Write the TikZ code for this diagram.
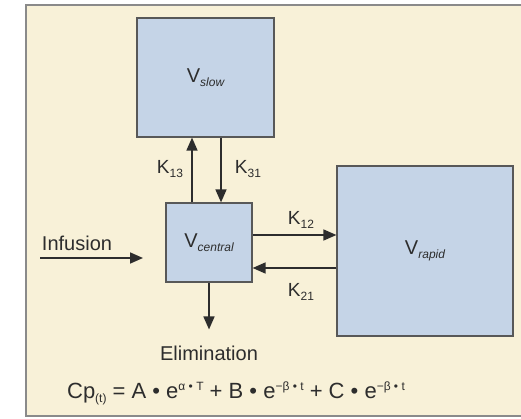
\documentclass[tikz,border=0pt]{standalone}
\usepackage{fontspec}
\setmainfont{Liberation Sans}
\definecolor{creambg}{RGB}{248,241,216}
\definecolor{boxblue}{RGB}{197,212,231}
\definecolor{edgegray}{RGB}{88,88,88}
\definecolor{inkgray}{RGB}{45,45,45}
\usetikzlibrary{arrows.meta,positioning,calc}
\newcommand{\lowsub}[1]{{\fontsize{12}{12}\selectfont\raisebox{-4pt}{#1}}}
\newcommand{\highsup}[1]{{\fontsize{12}{12}\selectfont\raisebox{8pt}{#1}}}

\begin{document}
\begin{tikzpicture}[x=1pt, y=-1pt,
    compartment/.style={draw=edgegray, line width=1.2pt, fill=boxblue,
      inner sep=0pt, text=inkgray, font=\fontsize{20}{22}\selectfont},
    flow/.style={draw=inkgray, line width=1.6pt,
      -{Triangle[length=13pt, width=11pt]}},
    rate/.style={text=inkgray, font=\fontsize{19}{21}\selectfont, inner sep=0pt}]
  % frame and background
  \useasboundingbox (0,0) rectangle (521,419);
  \fill[white] (0,0) rectangle (521,419);
  \draw[edgegray!70, line width=1.5pt, fill=creambg] (26,5) rectangle (530,416);

  % compartments
  \node[compartment, minimum width=137pt, minimum height=119pt] (slow) at (205.5,77.5)
    {V\lowsub{\itshape slow}};
  \node[compartment, minimum width=86pt, minimum height=79pt] (central) at (209,242.5)
    {V\lowsub{\itshape central}};
  \node[compartment, minimum width=176pt, minimum height=170pt] (rapid) at (425,251)
    {V\lowsub{\itshape rapid}};

  % free ends
  \coordinate (infstart) at (40,258);
  \coordinate (infend) at (143,258);
  \node[rate, font=\fontsize{20}{22}\selectfont] (infusion) at (77,243) {Infusion};
  \node[rate, font=\fontsize{20}{22}\selectfont] (elim) at (209,353) {Elimination};

  % transfers
  \draw[flow] ([xshift=-17pt]central.north) -- ([xshift=-17pt]central.north |- slow.south);
  \draw[flow] ([xshift=12pt]central.north |- slow.south) -- ([xshift=12pt]central.north);
  \draw[flow] ([yshift=7.5pt]central.east) -- ([yshift=7.5pt]central.east -| rapid.west);
  \draw[flow] ([yshift=-25.5pt]central.east -| rapid.west) -- ([yshift=-25.5pt]central.east);
  \draw[flow] (infstart) -- (infend);
  \draw[flow] (central.south) -- ([yshift=16pt]elim.north);

  % rate constants
  \node[rate] (k13) at (170,169) {K\lowsub{13}};
  \node[rate] (k31) at (248,169) {K\lowsub{31}};
  \node[rate] (k12) at (301,220) {K\lowsub{12}};
  \node[rate] (k21) at (301,292) {K\lowsub{21}};

  % plasma concentration
  \node[rate, font=\fontsize{22}{24}\selectfont] (cp) at (236,393)
    {Cp\lowsub{(t)} = A • e\highsup{α • T} + B • e\highsup{−β • t} + C • e\highsup{−β • t}};
\end{tikzpicture}
\end{document}
